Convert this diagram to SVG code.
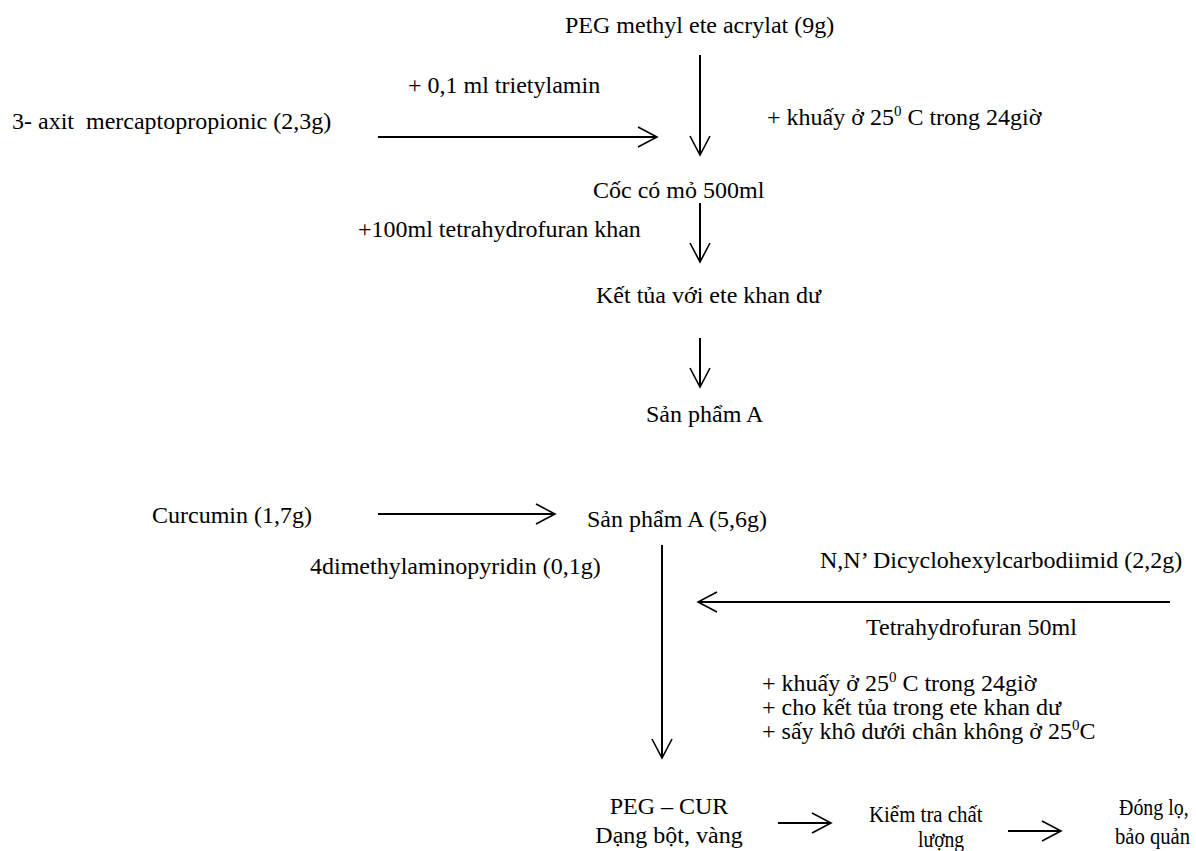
<svg xmlns="http://www.w3.org/2000/svg" width="1196" height="851" viewBox="0 0 1196 851">
<style>
text{font-family:"Liberation Serif","Times New Roman",serif;font-size:24px;fill:#000}
.sup{font-size:15px}
.ln{stroke:#000;stroke-width:2;fill:none}
</style>
<defs>
<marker id="ah" viewBox="-1 -11 22 22" markerWidth="22" markerHeight="22" refX="19" refY="0" orient="auto" markerUnits="userSpaceOnUse">
<path d="M0,-10 L19,0 L0,10" fill="none" stroke="#000" stroke-width="1.6"/>
</marker>
</defs>
<rect width="1196" height="851" fill="#fff"/>
<g id="connectors">
<line class="ln" x1="700" y1="55" x2="700" y2="155" marker-end="url(#ah)"/>
<line class="ln" x1="378" y1="137" x2="657" y2="137" marker-end="url(#ah)"/>
<line class="ln" x1="700" y1="203" x2="700" y2="262" marker-end="url(#ah)"/>
<line class="ln" x1="700" y1="338" x2="700" y2="387" marker-end="url(#ah)"/>
<line class="ln" x1="378" y1="514" x2="555" y2="514" marker-end="url(#ah)"/>
<line class="ln" x1="662" y1="545" x2="662" y2="758" marker-end="url(#ah)"/>
<line class="ln" x1="1170" y1="602" x2="698" y2="602" marker-end="url(#ah)"/>
<line class="ln" x1="778" y1="823" x2="831" y2="823" marker-end="url(#ah)"/>
<line class="ln" x1="1008" y1="831" x2="1061" y2="831" marker-end="url(#ah)"/>
</g>
<g id="peg-acrylat"><text x="565" y="33">PEG methyl ete acrylat (9g)</text></g>
<g id="trietylamin"><text x="408" y="93">+ 0,1 ml trietylamin</text></g>
<g id="khuay1"><text x="767" y="125">+ khuấy ở 25<tspan class="sup" dy="-9">0</tspan><tspan dy="9"> C trong 24giờ</tspan></text></g>
<g id="axit"><text x="12" y="129" xml:space="preserve">3- axit  mercaptopropionic (2,3g)</text></g>
<g id="coc"><text x="593" y="198">Cốc có mỏ 500ml</text></g>
<g id="thf"><text x="358" y="237">+100ml tetrahydrofuran khan</text></g>
<g id="ket-tua"><text x="596" y="303">Kết tủa với ete khan dư</text></g>
<g id="san-pham-a"><text x="646" y="422">Sản phẩm A</text></g>
<g id="curcumin"><text x="152" y="523">Curcumin (1,7g)</text></g>
<g id="san-pham-a2"><text x="587" y="527">Sản phẩm A (5,6g)</text></g>
<g id="dmap"><text x="310" y="574">4dimethylaminopyridin (0,1g)</text></g>
<g id="dcc"><text x="820" y="568">N,N’ Dicyclohexylcarbodiimid (2,2g)</text></g>
<g id="thf50"><text x="866" y="635">Tetrahydrofuran 50ml</text></g>
<g id="conditions">
<text x="762" y="691">+ khuấy ở 25<tspan class="sup" dy="-9">0</tspan><tspan dy="9"> C trong 24giờ</tspan></text>
<text x="762" y="715">+ cho kết tủa trong ete khan dư</text>
<text x="762" y="739">+ sấy khô dưới chân không ở 25<tspan class="sup" dy="-9">0</tspan><tspan dy="9">C</tspan></text>
</g>
<g id="peg-cur" text-anchor="middle">
<text x="669" y="814">PEG – CUR</text>
<text x="669" y="843">Dạng bột, vàng</text>
</g>
<g id="kiem-tra">
<text transform="translate(869,822) scale(0.87,1)">Kiểm tra chất</text>
<text transform="translate(918,847) scale(0.82,1)">lượng</text>
</g>
<g id="dong-lo">
<text transform="translate(1119,815) scale(0.83,1)">Đóng lọ,</text>
<text transform="translate(1115,844) scale(0.86,1)">bảo quản</text>
</g>
</svg>
